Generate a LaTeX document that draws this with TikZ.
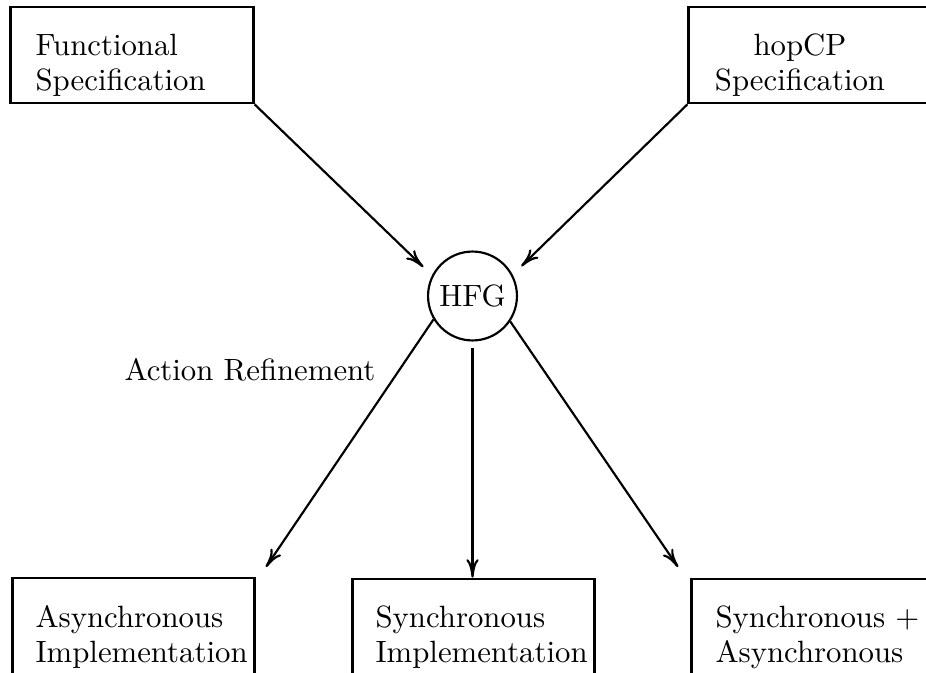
\documentclass[tikz,border=0pt]{standalone}
\usetikzlibrary{arrows.meta}
\begin{document}
\begin{tikzpicture}[x=0.325pt,y=-0.325pt,
  box/.style={draw, line width=0.9pt, minimum width=78.8pt, minimum height=31.2pt, inner sep=0pt},
  txt/.style={inner sep=0pt, font=\fontsize{10}{11.4}\selectfont},
  arr/.style={line width=0.7pt, -{Computer Modern Rightarrow[length=6pt,width=4pt]}}]
\useasboundingbox (0,0) rectangle (926,672);
% boxes
\node[box] (func) at (132,55) {};
\node[box] (hop) at (810,55) {};
\node[box] (async) at (133.5,626) {};
\node[box] (sync) at (473.5,627) {};
\node[box] (sa) at (813,627) {};
% texts
\node[txt, anchor=north west, align=left] (functxt) at (35,33.6) {Functional\\Specification};
\node[txt, anchor=north, align=center] (hoptxt) at (800,33.6) {hopCP\\Specification};
\node[txt, anchor=north west, align=left] (asynctxt) at (35,604.6) {Asynchronous\\Implementation};
\node[txt, anchor=north west, align=left] (synctxt) at (375,605.6) {Synchronous\\Implementation};
\node[txt, anchor=north west, align=left] (satxt) at (715,605.6) {Synchronous +\\Asynchronous};
% centre
\node[circle, draw, line width=0.7pt, minimum size=28.9pt, inner sep=0pt, font=\fontsize{10}{11.4}\selectfont] (hfg) at (472.5,296) {HFG};
\node[txt, anchor=base east] (act) at (376,380) {Action Refinement};
% free ends
\coordinate (aend) at (266,567);
\coordinate (saend) at (678,567);
% connectors
\draw[arr, shorten >=3.9pt] (func.south east) -- (hfg.153);
\draw[arr, shorten >=3.9pt] (hop.south west) -- (hfg.28);
\draw[arr] (hfg.211) -- (aend);
\draw[arr, shorten <=2pt] (hfg.south) -- (hfg.south |- sync.north);
\draw[arr] (hfg.326) -- (saend);
\end{tikzpicture}
\end{document}
